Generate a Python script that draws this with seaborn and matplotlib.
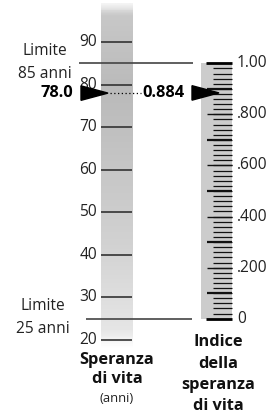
import numpy as np
import seaborn as sns
import matplotlib.pyplot as plt
from matplotlib.colors import LinearSegmentedColormap

# data
anni_ticks = [20, 30, 40, 50, 60, 70, 80, 90]
limite_min = 25
limite_max = 85
valore_anni = 78.0
indice_ticks = [0, 0.2, 0.4, 0.6, 0.8, 1.0]
indice_labels = ['0', '.200', '.400', '.600', '.800', '1.00']
valore_indice = 0.884


def idx_to_anni(v):
    return limite_min + (limite_max - limite_min) * np.asarray(v)


def py(p):
    # pixel row -> anni (used only for placing the bottom titles)
    return 90 - (p - 42) / 4.2571


sns.set_theme(style="white")
plt.rcParams['font.family'] = ['Open Sans', 'DejaVu Sans']

fig = plt.figure(figsize=(2.8, 4.15), dpi=100)
ax = fig.add_axes([0, 0, 1, 1])
ax.set_xlim(0, 280)
ax.set_ylim(2.38, 99.87)
ax.axis('off')

fs = 11.2
fsb = 11.8
col = '#222222'

# left bar gradient
grad = LinearSegmentedColormap.from_list(
    'g', [(0, '#ffffff'), (0.05, '#e6e6e6'), (0.3, '#d2d2d2'),
          (0.75, '#bababa'), (0.97, '#c8c8c8'), (1.0, '#f4f4f4')])
ax.imshow(np.linspace(0, 1, 200)[::-1].reshape(-1, 1), cmap=grad, aspect='auto',
          extent=(101, 133, 17.8, 98.9), zorder=0)

for t in anni_ticks:
    ax.hlines(t, 101, 132, color='#333333', lw=1.2, zorder=2)
    ax.text(97, t, str(t), ha='right', va='center', fontsize=fs, color=col)

# limits
ax.hlines(limite_max, 79, 193, color='#444444', lw=1.2, zorder=2)
ax.hlines(limite_min, 86, 192, color='#444444', lw=1.2, zorder=2)
ax.text(45, limite_max + 2.9, 'Limite', ha='center', va='center', fontsize=fs, color=col)
ax.text(45, limite_max - 2.5, '85 anni', ha='center', va='center', fontsize=fs, color=col)
ax.text(43, limite_min + 2.9, 'Limite', ha='center', va='center', fontsize=fs, color=col)
ax.text(43, limite_min - 2.5, '25 anni', ha='center', va='center', fontsize=fs, color=col)

# right bar
ax.fill_between([201, 232], idx_to_anni(0), idx_to_anni(1), color='#cccccc', lw=0, zorder=0)
minor = np.round(np.arange(0.02, 1.0, 0.02), 2)
for v in minor:
    ax.hlines(idx_to_anni(v), 213, 232, color='#111111', lw=0.9, zorder=2)
for v in np.round(np.arange(0.1, 1.0, 0.1), 1):
    odd = int(round(v * 10)) % 2 == 1
    ax.hlines(idx_to_anni(v), 207, 232, color='#111111', lw=1.6 if odd else 1.0, zorder=3)
for v in [0, 1]:
    ax.hlines(idx_to_anni(v), 206, 232, color='#000000', lw=2.0, zorder=3)
for v, lab in zip(indice_ticks, indice_labels):
    ax.text(237, idx_to_anni(v), lab, ha='left', va='center', fontsize=fs, color=col)

# arrows
h = 1.7
ax.fill([81, 108, 81], [valore_anni + h, valore_anni, valore_anni - h], color='black', zorder=4)
y_idx = float(idx_to_anni(valore_indice))
ax.fill([192, 219, 192], [y_idx + h, y_idx, y_idx - h], color='black', zorder=4)
ax.hlines(valore_anni, 110, 141, color='black', lw=0.9, linestyles=(0, (1, 2)), zorder=3)
ax.text(73, valore_anni, f'{valore_anni:.1f}', ha='right', va='center', fontsize=fsb,
        fontweight='bold', color='black')
ax.text(142, valore_anni, f'{valore_indice:.3f}', ha='left', va='center', fontsize=fsb,
        fontweight='bold', color='black')

# bottom titles
ax.text(117, py(360), 'Speranza', ha='center', va='center', fontsize=fsb, fontweight='bold', color='#111111')
ax.text(117, py(379), 'di vita', ha='center', va='center', fontsize=fsb, fontweight='bold', color='#111111')
ax.text(117, py(399), '(anni)', ha='center', va='center', fontsize=fs - 1.8, color=col)
for p, s in zip([342, 364, 385, 406], ['Indice', 'della', 'speranza', 'di vita']):
    ax.text(218, py(p), s, ha='center', va='center', fontsize=fsb, fontweight='bold', color='#111111')

fig.savefig('out.png', dpi=100)
